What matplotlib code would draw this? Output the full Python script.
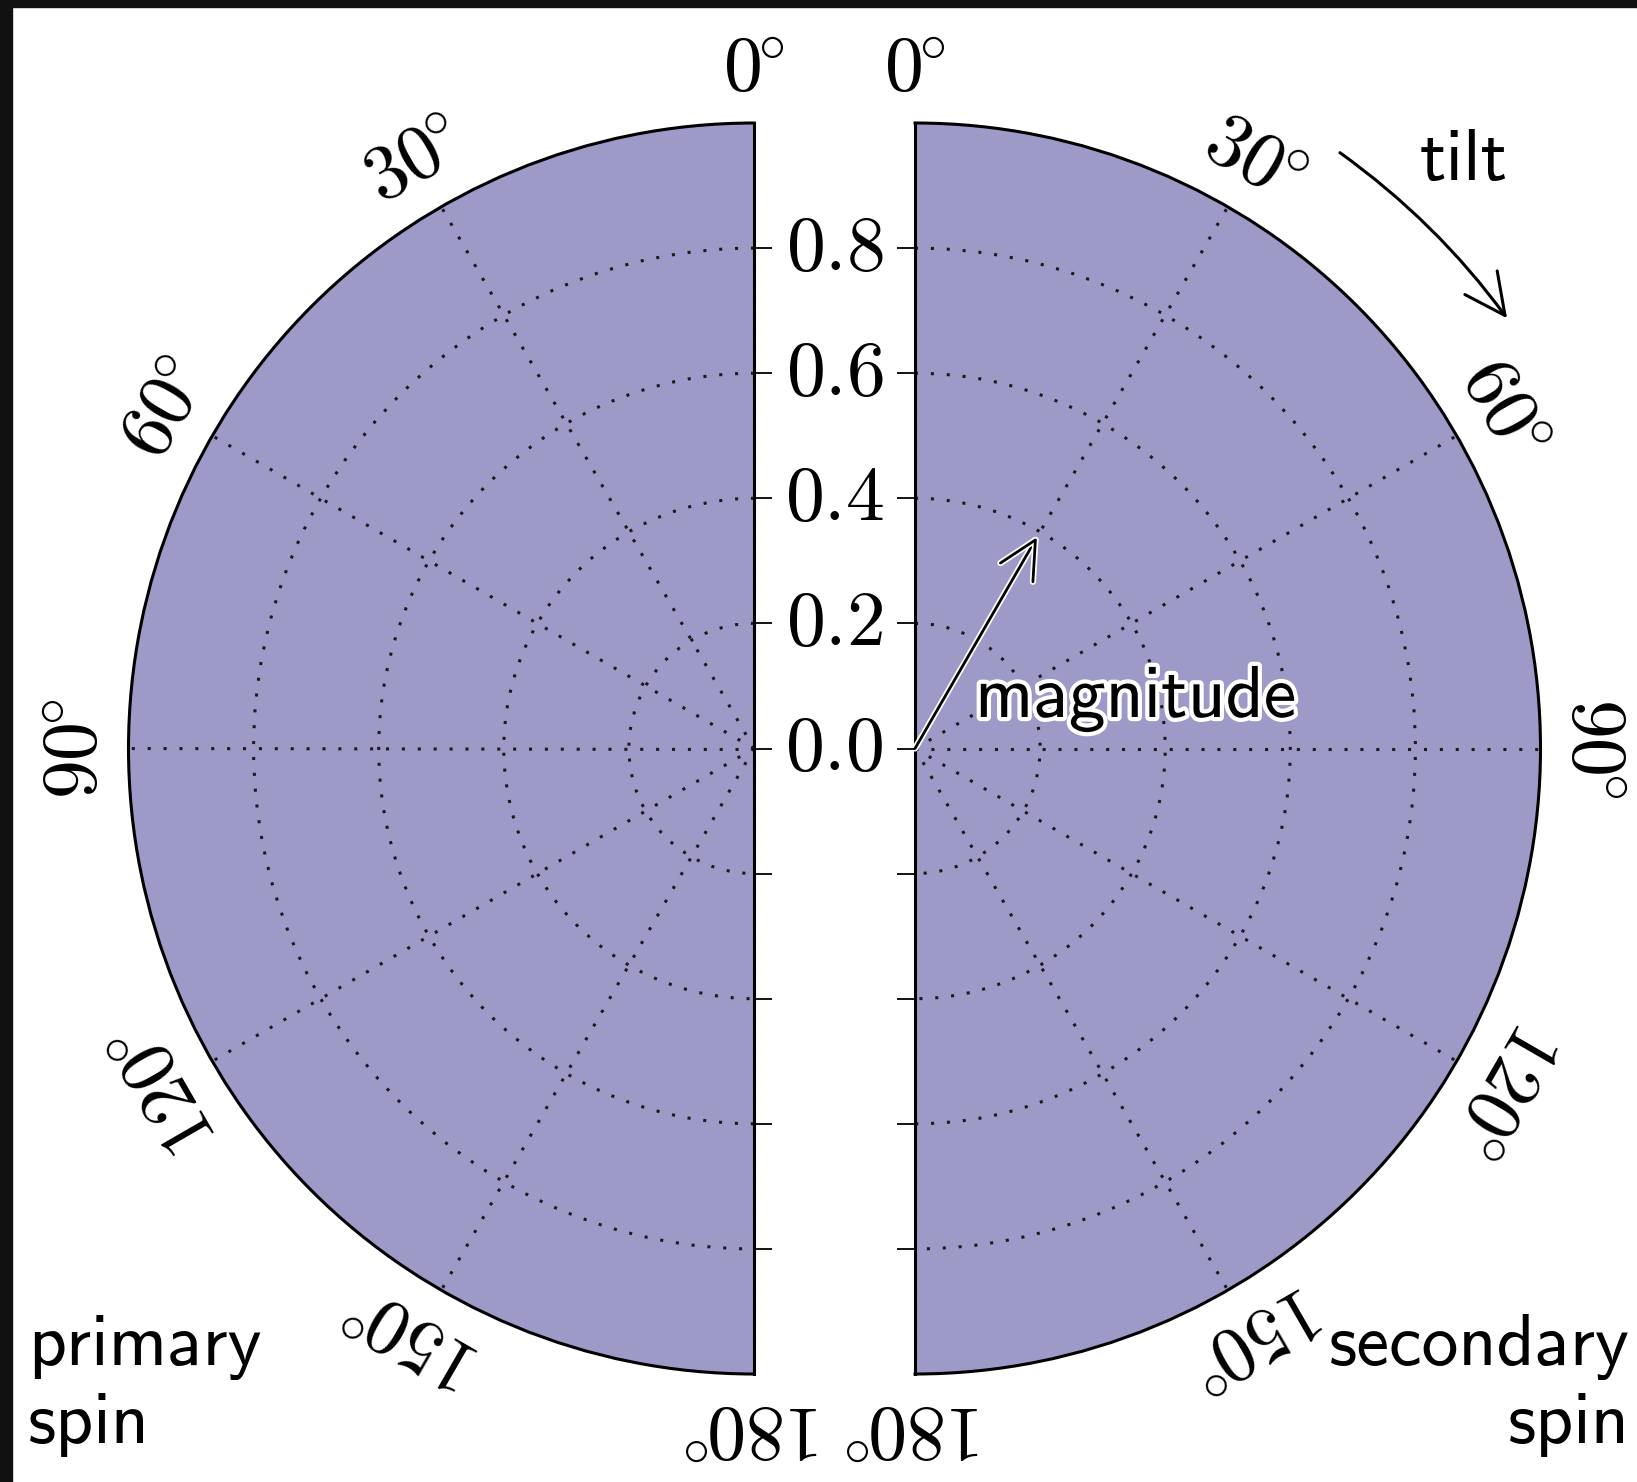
import numpy as np
import matplotlib
matplotlib.use("Agg")
import matplotlib.pyplot as plt
import matplotlib.transforms as mtransforms
import matplotlib.patheffects as pe
from matplotlib.patches import Rectangle

plt.rcParams['mathtext.fontset'] = 'cm'

# ---- data ----
theta_ticks = [0, 30, 60, 90, 120, 150, 180]          # degrees
r_grid = [0.2, 0.4, 0.6, 0.8]
r_tick_values = [-0.8, -0.6, -0.4, -0.2, 0.0, 0.2, 0.4, 0.6, 0.8]
r_label_values = [0.0, 0.2, 0.4, 0.6, 0.8]
mag_theta, mag_r = 30.0, 0.39                           # magnitude arrow tip
tilt_theta = [35.5, 54.0]                               # tilt arrow start/end
tilt_r = 1.17
fill_color = '#9e9ac8'

W, H = 1637, 1482
fig = plt.figure(figsize=(W / 100, H / 100), dpi=100)
fig.patch.set_facecolor('white')

# dark screenshot frame (top and left)
fig.patches.append(Rectangle((0, 1 - 7 / H), 1, 7 / H, transform=fig.transFigure,
                             color='#111111', zorder=0))
fig.patches.append(Rectangle((0, 0), 12 / W, 1, transform=fig.transFigure,
                             color='#111111', zorder=0))

R = 625.5
cy = 748.5
cxL, cxR = 754, 915
bottom = (H - (cy + R)) / H
side_w = 2 * R / W
side_h = 2 * R / H

# half-disc polar axes are fitted inside a square box
axL = fig.add_axes([(cxL - 1.5 * R) / W, bottom, side_w, side_h], projection='polar')
axR = fig.add_axes([(cxR - 0.5 * R) / W, bottom, side_w, side_h], projection='polar')

dot_style = (0, (1, 4.2))
for ax, direction in ((axL, 1), (axR, -1)):
    ax.set_theta_zero_location('N')
    ax.set_theta_direction(direction)
    ax.set_thetamin(0)
    ax.set_thetamax(180)
    ax.set_ylim(0, 1)
    ax.set_facecolor(fill_color)
    ax.set_thetagrids(theta_ticks, labels=[''] * len(theta_ticks))
    ax.set_rgrids(r_grid, labels=[''] * len(r_grid))
    ax.grid(True, color='#1a1a1a', linestyle=dot_style, linewidth=2.2)
    ax.tick_params(axis='x', direction='out', length=11, width=1.3, pad=0)
    ax.tick_params(axis='y', length=0)
    for sp in ax.spines.values():
        sp.set_linewidth(2.2)
        sp.set_color('black')
    rot_sign = 1 if direction == 1 else -1
    for t in theta_ticks:
        ax.text(np.deg2rad(t), 1.085, r'$%d^{\!\!\circ}$' % t, fontsize=56,
                rotation=rot_sign * t, rotation_mode='anchor',
                ha='center', va='center', clip_on=False)

# middle axis carrying radial ticks and labels
mid = fig.add_axes([cxL / W, bottom, (cxR - cxL) / W, side_h])
mid.set_xlim(0, 1)
mid.set_ylim(-1, 1)
mid.patch.set_alpha(0)
for sp in mid.spines.values():
    sp.set_visible(False)
mid.set_xticks([])
mid.set_yticks(r_tick_values)
mid.tick_params(axis='y', left=True, right=True, direction='in', length=13,
                width=1.3, labelleft=False, labelright=False)
tr = mtransforms.blended_transform_factory(mid.transAxes, mid.transData)
for v in r_label_values:
    mid.text(0.5, v, r'$%.1f$' % v, transform=tr, fontsize=56,
             ha='center', va='center')

halo = [pe.withStroke(linewidth=6, foreground='white')]

# magnitude arrow
axR.annotate('', xy=(np.deg2rad(mag_theta), mag_r), xytext=(0, 0),
             arrowprops=dict(arrowstyle='->,head_length=0.6,head_width=0.3',
                             color='black', lw=2.0, mutation_scale=45,
                             shrinkA=0, shrinkB=0,
                             path_effects=[pe.withStroke(linewidth=4.5, foreground='white')]),
             annotation_clip=False)
fig.text(975 / W, 1 - 717 / H, 'magnitude', fontname='cmss10', fontsize=53,
         ha='left', va='baseline', path_effects=halo)

# tilt arrow
axR.annotate('', xy=(np.deg2rad(tilt_theta[1]), tilt_r),
             xytext=(np.deg2rad(tilt_theta[0]), tilt_r),
             arrowprops=dict(arrowstyle='->,head_length=0.65,head_width=0.32',
                             color='black', lw=2.2, mutation_scale=45,
                             shrinkA=0, shrinkB=0,
                             connectionstyle='arc3,rad=-0.08'),
             annotation_clip=False)
fig.text(1420 / W, 1 - 180 / H, 'tilt', fontname='cmss10', fontsize=53,
         ha='left', va='baseline')

# corner labels
fig.text(28 / W, 1 - 1365 / H, 'primary', fontname='cmss10', fontsize=53,
         ha='left', va='baseline')
fig.text(28 / W, 1 - 1443 / H, 'spin', fontname='cmss10', fontsize=53,
         ha='left', va='baseline')
fig.text(1630 / W, 1 - 1365 / H, 'secondary', fontname='cmss10', fontsize=53,
         ha='right', va='baseline')
fig.text(1630 / W, 1 - 1443 / H, 'spin', fontname='cmss10', fontsize=53,
         ha='right', va='baseline')

fig.savefig('out.png', dpi=100)
